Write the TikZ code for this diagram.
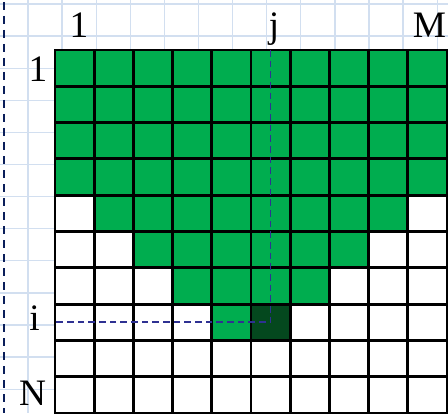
\documentclass[tikz,border=0pt]{standalone}
\usepackage{fontspec}
\setmainfont{Liberation Serif}
\usepackage{xcolor}
\usepackage{tikz}

\definecolor{cellgreen}{RGB}{0,173,79}
\definecolor{celldark}{RGB}{4,72,30}
\definecolor{paperline}{RGB}{210,223,240}
\definecolor{guideblue}{RGB}{46,49,146}
\definecolor{edgenavy}{RGB}{10,30,90}

\tikzset{
  cell/.style={draw=black, line width=2.2pt, fill=white, inner sep=0pt, outer sep=0pt,
    minimum width=29.4pt, minimum height=27.2pt},
  idx/.style={font=\fontsize{28}{30}\selectfont, inner sep=0pt, anchor=base},
  guide/.style={guideblue, line width=1.3pt, dash pattern=on 5pt off 3pt},
}

\begin{document}
\begin{tikzpicture}[x=0.75pt, y=-0.75pt]
\useasboundingbox (0,0) rectangle (448,413);

% ========= background: squared paper =========
\foreach \k in {0,...,12} {
  \draw[paperline, line width=1pt] ({28+34.1*\k},0) -- ({28+34.1*\k},413);
  \draw[paperline, line width=1pt] (0,{4+32.1*\k}) -- (448,{4+32.1*\k});
}
\coordinate (edgetop) at (4,2);
\coordinate (edgebot) at (4,413);
\draw[edgenavy, line width=1.6pt, dash pattern=on 6pt off 4.5pt] (edgetop) -- (edgebot);

% ========= the N x M grid =========
% cell (r,c): row r from the top, column c from the left
\foreach \r in {1,...,10}
  \foreach \c in {1,...,10}
    \node[cell] (c-\r-\c) at ({55+39.2*(\c-0.5)},{50+36.3*(\r-0.5)}) {};

% green cells: row / first column / last column
\foreach \r/\a/\b in {1/1/10, 2/1/10, 3/1/10, 4/1/10, 5/2/9, 6/3/8, 7/4/7, 8/5/5}
  \foreach \c in {\a,...,\b}
    \node[cell, fill=cellgreen] at (c-\r-\c) {};

% cell (i,j)
\node[cell, fill=celldark] (cij) at (c-8-6) {};

% ========= dashed guides to (i,j) =========
\draw[guide] (c-1-6.north) -- (cij.center) -- (c-8-1.west);

% ========= indices =========
\node[idx] (col1) at (79,38) {1};
\node[idx] (colj) at (274,38) {j};
\node[idx] (colM) at (429.5,38) {M};
\node[idx] (row1) at (38,82) {1};
\node[idx] (rowi) at (34.5,330) {i};
\node[idx] (rowN) at (32.5,405) {N};
\end{tikzpicture}
\end{document}
